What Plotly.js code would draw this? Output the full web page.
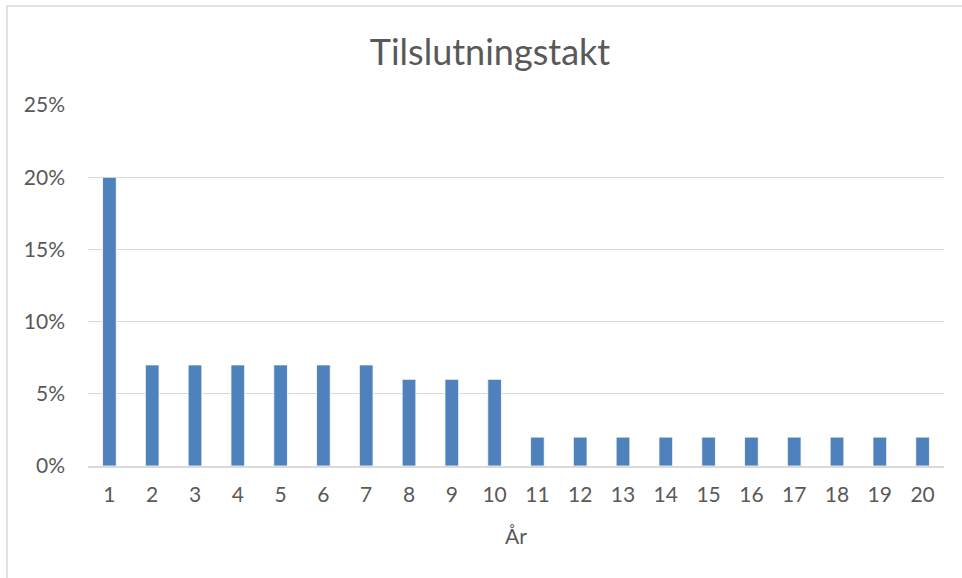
<!DOCTYPE html>
<html>
<head>
<meta charset="utf-8">
<script src="https://cdn.plot.ly/plotly-3.0.1.min.js"></script>
<style>
html,body{margin:0;padding:0;background:#fff;}
#chart{width:962px;height:578px;}
</style>
</head>
<body>
<div id="chart"></div>
<script>
// Data
const years = ["1","2","3","4","5","6","7","8","9","10","11","12","13","14","15","16","17","18","19","20"];
const rates = [0.20,0.07,0.07,0.07,0.07,0.07,0.07,0.06,0.06,0.06,0.02,0.02,0.02,0.02,0.02,0.02,0.02,0.02,0.02,0.02];
const yTickVals = [0,0.05,0.10,0.15,0.20,0.25];
const yTickText = ["0%","5%","10%","15%","20%","25%"];
const chartTitle = "Tilslutningstakt";
const xTitle = "År";

const W = 962, H = 578;
const m = {l: 88, r: 18, t: 105, b: 112};
const pw = W - m.l - m.r, ph = H - m.t - m.b;
function px(x){ return (x - m.l) / pw; }
function py(y){ return (H - m.b - y) / ph; }

const font = "Lato, 'Open Sans', 'Liberation Sans', sans-serif";
const txt = '#595959';

const trace = {
  type: 'bar',
  x: years,
  y: rates,
  marker: {color: '#4F81BD', line: {color: '#ffffff', width: 0.8}},
  hoverinfo: 'x+y'
};

const layout = {
  width: W, height: H,
  margin: m,
  paper_bgcolor: '#ffffff',
  plot_bgcolor: '#ffffff',
  showlegend: false,
  bargap: 0.68,
  font: {family: font, color: txt},
  title: {
    text: chartTitle,
    font: {family: font, size: 36, color: txt},
    x: px(490), xref: 'paper', xanchor: 'center',
    y: 1 - 52 / H, yref: 'container', yanchor: 'middle'
  },
  xaxis: {
    type: 'category',
    showgrid: false,
    showline: true, linecolor: '#d9d9d9', linewidth: 1.5,
    ticks: '',
    tickfont: {family: font, size: 21, color: txt},
    ticklabelstandoff: 9,
    title: {text: xTitle, font: {family: font, size: 21, color: txt}, standoff: 24},
    fixedrange: true
  },
  yaxis: {
    range: [0, 0.25],
    tickvals: yTickVals,
    ticktext: yTickText,
    showgrid: true, gridcolor: '#d9d9d9', gridwidth: 1.3,
    zeroline: false,
    showline: false,
    ticks: '',
    tickfont: {family: font, size: 21, color: txt},
    ticklabelstandoff: 22,
    fixedrange: true
  },
  shapes: [{
    type: 'rect', xref: 'paper', yref: 'paper',
    x0: px(7), x1: px(975), y0: py(590), y1: py(6),
    line: {color: '#d9d9d9', width: 1.5}, fillcolor: 'rgba(0,0,0,0)', layer: 'below'
  }]
};

Plotly.newPlot('chart', [trace], layout, {displayModeBar: false, staticPlot: true});
</script>
</body>
</html>
